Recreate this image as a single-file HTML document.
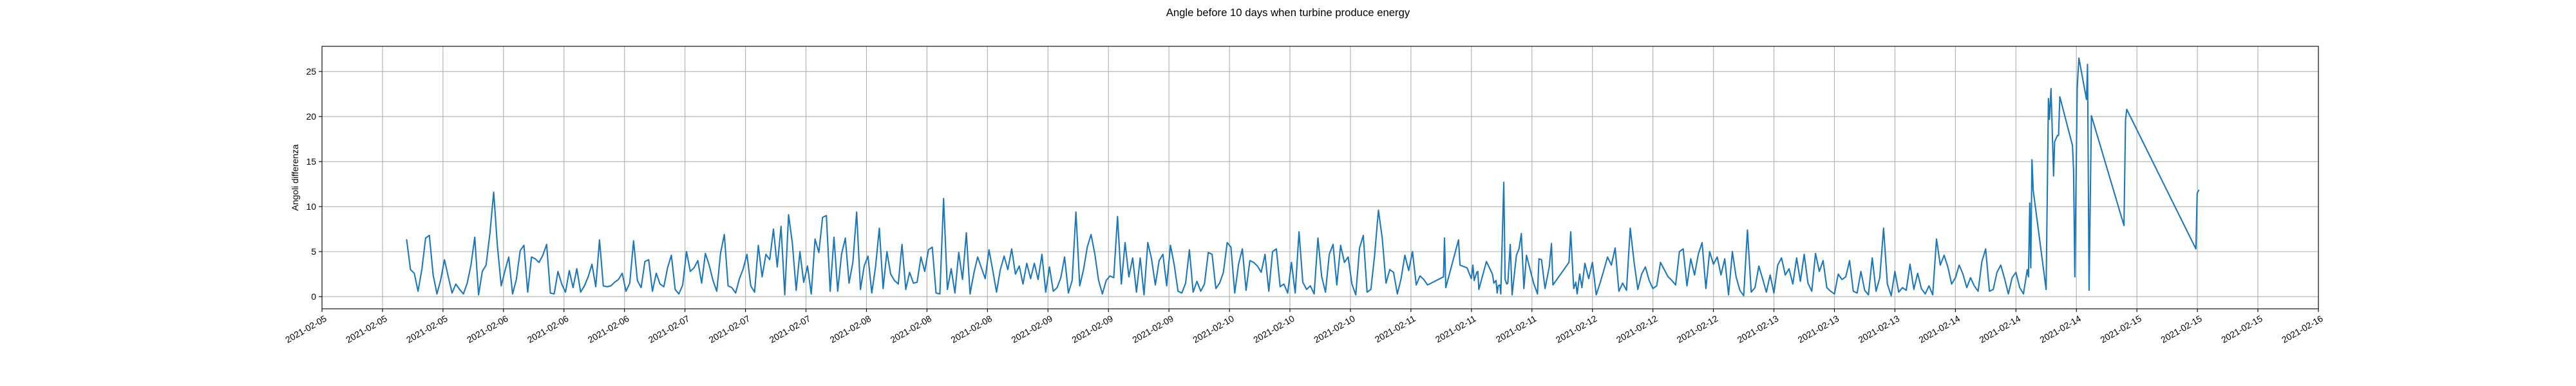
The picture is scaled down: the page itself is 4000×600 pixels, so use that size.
<!DOCTYPE html>
<html><head><meta charset="utf-8"><style>
html,body{margin:0;padding:0;background:#fff;}
svg{display:block;font-family:"Liberation Sans","DejaVu Sans",sans-serif;}
</style></head>
<body>
<svg id="chart" width="4000" height="600" viewBox="0 0 4000 600">
<text x="2000" y="25" text-anchor="middle" font-size="16.7" fill="#000">Angle before 10 days when turbine produce energy</text>
<g id="grid"></g>
<g id="series"></g>
<rect x="500" y="72" width="3100" height="408" fill="none" stroke="#000" stroke-width="1.1"/>
<g id="xaxis"></g>
<g id="yaxis"></g>
<text transform="translate(463,276) rotate(-90)" text-anchor="middle" font-size="13.9" fill="#000">Angoli differenza</text>
</svg>
<script>
// hours since 2021-02-05 00:00
const segAStart = 11.2;
const segAStep = 0.5;
const segAValues = [
6.3,3.0,2.6,0.6,3.0,6.5,6.8,2.4,0.3,1.9,4.1,2.2,0.4,1.4,0.8,0.3,1.5,3.5,6.6,0.2,
2.8,3.5,7.0,11.6,5.6,1.2,2.9,4.4,0.3,1.9,5.1,5.7,0.5,4.4,4.2,3.8,4.6,5.8,0.4,0.3,
2.8,1.4,0.5,2.9,1.0,3.1,0.5,1.2,2.2,3.6,1.1,6.3,1.2,1.1,1.2,1.6,1.9,2.6,0.6,1.5,
6.2,1.8,1.0,3.9,4.1,0.6,2.6,1.4,1.1,3.2,4.6,0.8,0.3,1.3,5.0,2.8,3.2,4.0,1.5,4.8,
3.5,1.8,0.6,4.8,6.9,1.2,1.0,0.4,2.0,3.1,4.7,1.2,0.5,5.7,2.2,4.7,4.1,7.5,3.3,
7.8,0.2,9.1,5.9,0.7,5.0,1.6,3.4,0.3,6.4,4.9,8.8,9.0,0.6,6.6,0.6,4.7,6.5,1.5,3.8,9.4,0.8,
3.4,4.5,0.4,3.3,7.6,0.9,5.0,2.5,1.8,1.4,5.8,0.8,2.7,1.5,1.6,4.4,2.8,5.2,5.5,0.4,
0.3,10.9,0.8,3.1,0.4,4.9,1.9,7.1,0.3,2.6,4.4,3.2,2.0,5.2,2.9,0.5,3.0,4.5,3.0,5.3,
2.5,3.4,1.4,3.7,2.0,3.7,1.9,4.7,0.5,3.3,0.6,1.0,2.1,4.4,0.4,1.8,9.4,1.2,3.0,5.5,6.9,
4.7,1.8,0.3,1.8,2.3,2.1,8.9,1.4,6.0,2.2,4.3,0.5,4.3,0.2,6.0,4.2,1.3,4.0,4.7,1.2,
5.7,3.5,0.6,0.4,1.5,5.2,0.5,1.7,0.6,1.4,4.9,4.7,0.9,1.5,2.7,6.0,5.5,0.4,3.6,5.3,
0.7,4.0,3.8,3.4,2.7,4.7,0.6,5.0,5.3,1.1,1.4,0.4,3.8,0.4,7.2,1.6,0.8,1.2,0.3,6.5,2.2,0.5,
4.7,5.8,1.3,5.7,3.8,4.4,1.4,0.2,5.4,6.8,0.5,0.8,4.6,9.6,6.5,1.5,3.0,2.7,0.3,2.0,
4.6,2.9,5.0,1.3,2.3,1.9,1.3
];
const sparseBTimes = [148.3,148.44,148.61,150.29,150.49,151.42,151.79,151.99,152.19,152.36,152.70,152.84,152.98,153.98,154.77,154.97,155.25,155.40,155.54,155.76,155.88,156.11,156.28,156.45,156.67,156.81,157.13,157.38,157.95,158.29,158.60,158.94,159.28,159.80,160.22,160.73,160.93,161.27,161.73,162.29,162.58,162.78,164.90,165.13,165.33,165.53,165.81,165.98,166.32,166.61];
const sparseBValues = [2.2,6.5,1.0,6.3,3.5,3.2,2.4,2.0,3.5,1.8,2.7,2.8,0.8,3.9,2.5,1.5,1.8,0.4,1.2,1.3,0.3,7.5,12.7,1.9,1.4,1.5,5.8,0.2,4.6,5.3,7.0,0.9,4.6,2.9,1.5,0.3,4.2,4.1,0.9,3.3,5.9,1.3,3.8,7.2,3.9,0.9,1.6,0.3,2.5,1.0];
const segCStart = 167.0;
const segCStep = 0.5;
const segCValues = [
3.7,2.0,3.8,0.2,1.5,2.9,4.4,3.5,5.4,0.6,1.5,0.7,7.6,3.9,0.8,2.5,3.3,1.8,0.9,1.2,
3.8,3.0,2.2,1.8,1.3,5.0,5.3,1.2,4.2,2.4,4.7,6.0,0.9,5.0,3.6,4.4,2.4,4.2,0.2,5.0,
2.2,0.7,0.1,7.4,0.5,1.0,3.4,2.0,0.5,2.4,0.4,3.5,4.3,2.4,3.1,1.4,4.3,1.7,4.7,1.5,
0.6,4.8,2.8,4.0,1.0,0.6,0.3,2.5,
1.9,2.2,4.0,0.6,0.4,2.8,0.7,0.2,4.3,0.6,2.1,7.6,1.4,0.1,2.8,0.5,1.0,0.7,3.6,0.8,
2.6,0.9,0.3,1.2,0.2,6.4,3.5,4.6,3.3,1.4,2.1,3.5,2.5,1.0,2.1,1.2,0.6,3.9,5.3,0.6,
0.8,2.7,3.5,2.0,0.3,2.1,2.7,1.0,0.3,3.0
];
const tailTimes = [225.66,225.83,225.97,226.12,226.29,227.99,228.30,228.44,228.64,228.98,229.12,229.49,229.64,229.81,231.48,231.62,231.79,232.11,232.33,233.33,233.47,233.67,233.98,238.29,238.49,238.66,247.80,247.97,248.17];
const tailValues = [2.2,10.4,3.2,15.2,11.8,0.8,22.0,19.7,23.1,13.4,17.2,17.9,17.9,22.2,16.8,14.1,2.2,23.2,26.5,21.9,25.8,0.7,20.1,7.9,19.6,20.8,5.3,11.5,11.8];
const yTicks = [0,5,10,15,20,25];
const xTickHours = [0,8,16,24,32,40,48,56,64,72,80,88,96,104,112,120,128,136,144,152,160,168,176,184,192,200,208,216,224,232,240,248,256,264];
const xTickLabels = ["2021-02-05","2021-02-05","2021-02-05","2021-02-06","2021-02-06","2021-02-06","2021-02-07","2021-02-07","2021-02-07","2021-02-08","2021-02-08","2021-02-08","2021-02-09","2021-02-09","2021-02-09","2021-02-10","2021-02-10","2021-02-10","2021-02-11","2021-02-11","2021-02-11","2021-02-12","2021-02-12","2021-02-12","2021-02-13","2021-02-13","2021-02-13","2021-02-14","2021-02-14","2021-02-14","2021-02-15","2021-02-15","2021-02-15","2021-02-16"];

const NS = "http://www.w3.org/2000/svg";
const X0 = 500, X1 = 3600, Y0 = 72, Y1 = 480;
const xMin = 0, xMax = 264, yMin = -1.35, yMax = 27.8;
function xScale(h){ return X0 + (h - xMin) / (xMax - xMin) * (X1 - X0); }
function yScale(v){ return Y1 - (v - yMin) / (yMax - yMin) * (Y1 - Y0); }
function mk(tag, attrs){ const e = document.createElementNS(NS, tag); for (const k in attrs) e.setAttribute(k, attrs[k]); return e; }

const grid = document.getElementById('grid');
const xaxis = document.getElementById('xaxis');
const yaxis = document.getElementById('yaxis');
xTickHours.forEach((h, i) => {
  const x = xScale(h);
  const gl = mk('line', {x1:x, x2:x, y1:Y0, y2:Y1, stroke:'#b0b0b0', 'stroke-width':1.1});
  
  
  grid.appendChild(gl);
  const tk = mk('line', {x1:x, x2:x, y1:Y1, y2:Y1+5, stroke:'#000', 'stroke-width':1.1});
  
  
  xaxis.appendChild(tk);
  const t = mk('text', {transform:'translate(' + (x+3) + ',' + (Y1+9) + ') rotate(-30)', 'text-anchor':'end', 'font-size':13.9, dy:'0.75em', fill:'#000'});
  t.textContent = xTickLabels[i];
  
  
  xaxis.appendChild(t);
});
yTicks.forEach(v => {
  const y = yScale(v);
  const gl = mk('line', {x1:X0, x2:X1, y1:y, y2:y, stroke:'#b0b0b0', 'stroke-width':1.1});
  
  
  grid.appendChild(gl);
  const tk = mk('line', {x1:X0-5, x2:X0, y1:y, y2:y, stroke:'#000', 'stroke-width':1.1});
  
  
  yaxis.appendChild(tk);
  const t = mk('text', {x:X0-9, y:y+5, 'text-anchor':'end', 'font-size':13.9, fill:'#000'});
  t.textContent = String(v);
  
  
  yaxis.appendChild(t);
});

const pts = [];
segAValues.forEach((v, i) => pts.push([segAStart + i * segAStep, v]));
sparseBTimes.forEach((t, i) => pts.push([t, sparseBValues[i]]));
segCValues.forEach((v, i) => pts.push([segCStart + i * segCStep, v]));
tailTimes.forEach((t, i) => pts.push([t, tailValues[i]]));
pts.sort((a, b) => a[0] - b[0]);
let d = '';
pts.forEach((p, i) => { d += (i ? 'L' : 'M') + xScale(p[0]).toFixed(1) + ',' + yScale(p[1]).toFixed(1); });
const path = mk('path', {d:d, fill:'none', stroke:'#1f77b4', 'stroke-width':2.1, 'stroke-linejoin':'round', 'stroke-linecap':'square'});


document.getElementById('series').appendChild(path);
</script>
</body></html>
